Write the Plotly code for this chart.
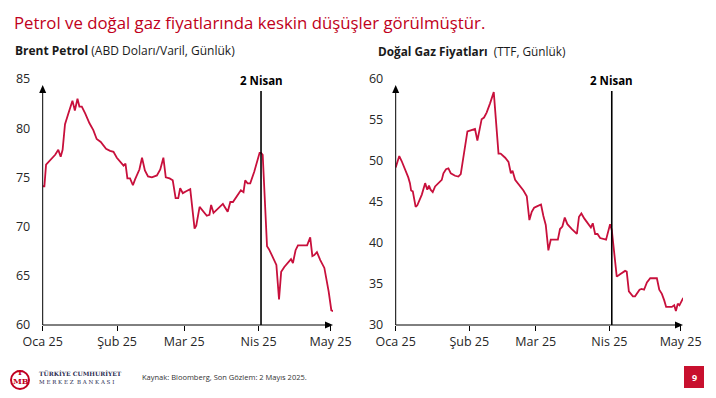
import pandas as pd
import plotly.graph_objects as go

# ---------------- data ----------------
start_date = "2025-01-01"
month_ticks = ["2025-01-01", "2025-02-01", "2025-03-01", "2025-04-01", "2025-05-01"]
month_labels = ["Oca 25", "Şub 25", "Mar 25", "Nis 25", "May 25"]
event_date = "2025-04-02"
event_label = "2 Nisan"

# Brent: day offset from 1 Jan 2025, USD/barrel
brent_days = [0, 0.7, 1.4, 3.1, 5.2, 6.5, 7.5, 8.3, 9.3, 10.7, 12.4, 13.4, 14.5, 15.3, 16.3,
              17.7, 19.5, 21.1, 22.5, 24.2, 26.4, 28.1, 29.5, 30.9, 32.5, 33.7, 34.5, 35.3, 36.4,
              37.6, 38.5, 40.3, 41.4, 42.6, 43.9, 45.5, 47.6, 49.0, 50.3, 51.3, 52.9, 54.2, 55.4,
              56.5, 57.3, 58.4, 59.8, 61.5, 63.3, 64.0, 65.4, 67.0, 68.4, 69.5, 70.2, 71.2, 72.6,
              75.1, 77.1, 78.2, 79.3, 81.2, 82.6, 83.7, 84.4, 85.4, 86.5, 88.2, 89.3, 90.4, 91.0,
              91.7, 93.5, 94.3, 95.5, 97.4, 98.5, 99.4, 100.7, 101.8, 103.5, 104.3, 105.4, 106.4,
              108.1, 110.2, 111.5, 112.4, 113.2, 114.3, 115.7, 117.4, 119.2, 120.3, 121.3]
brent_vals = [74.1, 74.1, 76.3, 76.7, 77.3, 77.8, 77.1, 77.8, 80.4, 81.5, 82.8, 81.8, 83.0, 82.2,
              82.2, 81.5, 80.5, 79.8, 78.9, 78.6, 77.9, 77.7, 77.6, 77.0, 76.5, 76.2, 76.4, 74.9,
              74.9, 74.2, 74.8, 75.8, 77.0, 75.7, 75.1, 75.0, 75.2, 75.8, 77.0, 75.0, 74.9, 74.7,
              72.9, 72.9, 73.9, 73.4, 73.6, 73.8, 69.8, 70.1, 72.0, 71.5, 71.1, 71.2, 72.2, 71.4,
              71.7, 72.3, 71.5, 72.5, 72.5, 73.2, 73.7, 73.5, 74.7, 74.4, 74.4, 75.6, 76.6, 77.5,
              77.5, 77.3, 68.0, 67.7, 67.1, 66.1, 62.6, 65.4, 65.9, 66.2, 66.7, 66.3, 67.6, 68.1,
              68.1, 68.1, 68.9, 67.0, 67.1, 67.4, 66.6, 65.8, 63.4, 61.5, 61.4]

# TTF natural gas: day offset from 1 Jan 2025, EUR/MWh
gas_days = [0, 0.8, 1.5, 2.5, 3.9, 5.3, 6.0, 6.5, 7.2, 8.4, 9.1, 11.0, 12.4, 13.3, 14.0, 14.7,
            15.6, 16.6, 19.4, 20.1, 21.2, 22.2, 23.2, 25.0, 26.4, 27.4, 30.2, 31.0, 33.4, 34.4,
            36.2, 37.2, 38.3, 39.7, 41.3, 43.3, 44.2, 46.1, 47.5, 48.5, 49.2, 50.3, 51.7, 53.8,
            55.2, 56.3, 57.3, 58.3, 59.7, 61.2, 62.2, 63.2, 64.3, 65.3, 66.4, 68.3, 69.2, 70.2,
            71.2, 72.3, 74.2, 76.3, 77.2, 78.2, 79.4, 80.9, 82.2, 83.0, 84.0, 85.0, 86.1, 88.6,
            89.2, 90.3, 91.0, 93.1, 94.5, 96.6, 97.3, 98.2, 99.9, 100.8, 102.7, 103.6, 104.6,
            105.8, 107.2, 110.0, 111.0, 112.1, 113.1, 113.9, 116.3, 117.3, 118.0, 118.8, 119.5,
            120.5, 121.1]
gas_vals = [49.2, 50.1, 50.6, 50.0, 49.1, 48.0, 47.3, 46.4, 46.3, 44.4, 44.6, 45.9, 47.3, 46.5,
            47.0, 46.5, 46.2, 46.9, 47.7, 48.5, 49.0, 49.1, 48.5, 48.2, 48.1, 48.4, 53.6, 53.7,
            53.9, 52.5, 55.1, 55.3, 55.9, 57.0, 58.4, 50.9, 50.9, 50.4, 49.9, 48.5, 48.8, 47.7,
            47.2, 46.4, 45.7, 42.8, 43.8, 44.3, 44.5, 44.7, 43.3, 42.2, 39.1, 40.4, 40.4, 40.4,
            41.7, 42.0, 43.1, 42.3, 41.7, 41.1, 43.2, 43.6, 43.0, 42.4, 41.9, 42.4, 41.1, 41.1,
            40.6, 40.4, 41.0, 42.3, 41.6, 35.9, 36.2, 36.6, 36.5, 34.1, 33.5, 33.5, 34.3, 34.4,
            34.3, 35.2, 35.7, 35.7, 34.3, 33.8, 33.0, 32.2, 32.2, 32.4, 31.7, 32.6, 32.4, 33.0,
            33.3]

brent_range = [60, 85]
brent_ticks = [60, 65, 70, 75, 80, 85]
gas_range = [30, 60]
gas_ticks = [30, 35, 40, 45, 50, 55, 60]
x_end = "2025-05-02"

title_text = "Petrol ve doğal gaz fiyatlarında keskin düşüşler görülmüştür."
left_sub = "<b>Brent Petrol</b> (ABD Doları/Varil, Günlük)"
right_sub = "<b>Doğal Gaz Fiyatları</b>  (TTF, Günlük)"
source_text = "Kaynak: Bloomberg, Son Gözlem: 2 Mayıs 2025."
page_no = "9"

# ---------------- helpers ----------------
W, H = 716, 398
def px(x):
    return x / W
def py(y):
    return 1 - y / H

base = pd.Timestamp(start_date)
brent_x = base + pd.to_timedelta(brent_days, unit="D")
gas_x = base + pd.to_timedelta(gas_days, unit="D")

LINE = "#c8103c"
FONT = "Open Sans, DejaVu Sans, sans-serif"
TXT = "#262626"

fig = go.Figure()
fig.add_trace(go.Scatter(x=brent_x, y=brent_vals, mode="lines",
                         line=dict(color=LINE, width=1.8), xaxis="x", yaxis="y",
                         showlegend=False, hoverinfo="skip"))
fig.add_trace(go.Scatter(x=gas_x, y=gas_vals, mode="lines",
                         line=dict(color=LINE, width=1.8), xaxis="x2", yaxis="y2",
                         showlegend=False, hoverinfo="skip"))

Y_BOT, Y_TOP = 325, 79          # pixel rows of the y-range ends
LX0, LX1 = 42.7, 333            # left panel x extent (px)
RX0, RX1 = 395.7, 683           # right panel x extent (px)
ydom = [py(Y_BOT), py(Y_TOP)]

def xaxis_cfg(dom, anchor):
    return dict(domain=dom, range=[start_date, x_end], type="date", anchor=anchor,
                tickvals=month_ticks, ticktext=month_labels, automargin=False,
                showgrid=False, zeroline=False, showline=False,
                ticks="outside", ticklen=5, tickwidth=1, tickcolor="black",
                tickfont=dict(family=FONT, size=12.5, color=TXT), fixedrange=True)

def yaxis_cfg(rng, ticks, anchor):
    return dict(domain=ydom, range=rng, tickvals=ticks, anchor=anchor, automargin=False,
                showgrid=False, zeroline=False, showline=False,
                ticks="outside", ticklen=9, tickcolor="rgba(0,0,0,0)",
                tickfont=dict(family=FONT, size=12.5, color=TXT), fixedrange=True)

fig.update_layout(
    width=W, height=H, autosize=False, margin=dict(l=0, r=0, t=0, b=0, pad=0, autoexpand=False),
    paper_bgcolor="white", plot_bgcolor="rgba(0,0,0,0)",
    xaxis=xaxis_cfg([px(LX0), px(LX1)], "y"),
    yaxis=yaxis_cfg(brent_range, brent_ticks, "x"),
    xaxis2=xaxis_cfg([px(RX0), px(RX1)], "y2"),
    yaxis2=yaxis_cfg(gas_range, gas_ticks, "x2"),
    showlegend=False,
)

annotations = []
shapes = []

def paper_path(points):
    return "M " + " L ".join(f"{px(x):.5f},{py(y):.5f}" for x, y in points) + " Z"

# axis lines with arrow heads (paper coordinates so they are not clipped)
for x0, x1 in [(LX0, LX1), (RX0, RX1)]:
    tip_y = 85
    shapes.append(dict(type="line", xref="paper", yref="paper", x0=px(x0), x1=px(x0),
                       y0=py(Y_BOT), y1=py(tip_y + 4), line=dict(color="black", width=1)))
    shapes.append(dict(type="line", xref="paper", yref="paper", x0=px(x0), x1=px(x1 - 4),
                       y0=py(Y_BOT), y1=py(Y_BOT), line=dict(color="black", width=1)))
    shapes.append(dict(type="path", xref="paper", yref="paper",
                       path=paper_path([(x0, tip_y), (x0 - 3.5, tip_y + 8), (x0 + 3.5, tip_y + 8)]),
                       fillcolor="black", line=dict(width=0)))
    shapes.append(dict(type="path", xref="paper", yref="paper",
                       path=paper_path([(x1, Y_BOT), (x1 - 8, Y_BOT - 3.5), (x1 - 8, Y_BOT + 3.5)]),
                       fillcolor="black", line=dict(width=0)))

# event lines
for xr, yr, rng in [("x", "y", brent_range), ("x2", "y2", gas_range)]:
    ytop = rng[0] + (rng[1] - rng[0]) * (Y_BOT - 91) / (Y_BOT - Y_TOP)
    shapes.append(dict(type="line", xref=xr, yref=yr, x0=event_date, x1=event_date,
                       y0=rng[0], y1=ytop, line=dict(color="black", width=1.6)))
    annotations.append(dict(x=event_date, y=ytop, xref=xr, yref=yr, text="<b>" + event_label + "</b>",
                            showarrow=False, yanchor="bottom", yshift=1,
                            font=dict(family=FONT, size=11.5, color="black")))

# titles
annotations.append(dict(x=px(12), y=py(23), xref="paper", yref="paper", xanchor="left",
                        yanchor="middle", text=title_text, showarrow=False,
                        font=dict(family=FONT, size=16.8, color="#c00020")))
annotations.append(dict(x=px(13), y=py(51), xref="paper", yref="paper", xanchor="left",
                        yanchor="middle", text=left_sub, showarrow=False,
                        font=dict(family=FONT, size=12, color="#1a1a1a")))
annotations.append(dict(x=px(376), y=py(51), xref="paper", yref="paper", xanchor="left",
                        yanchor="middle", text=right_sub, showarrow=False,
                        font=dict(family=FONT, size=11.8, color="#1a1a1a")))

# footer
annotations.append(dict(x=px(140), y=py(377), xref="paper", yref="paper", xanchor="left",
                        yanchor="middle", text=source_text, showarrow=False,
                        font=dict(family=FONT, size=7.5, color="#333333")))
annotations.append(dict(x=px(37), y=py(373), xref="paper", yref="paper", xanchor="left",
                        yanchor="middle", text="<b>TÜRKİYE CUMHURİYET</b>", showarrow=False,
                        font=dict(family="DejaVu Serif, serif", size=6, color="#2b2b4f")))
annotations.append(dict(x=px(37), y=py(382), xref="paper", yref="paper", xanchor="left",
                        yanchor="middle", text="M E R K E Z  B A N K A S I", showarrow=False,
                        font=dict(family="DejaVu Serif, serif", size=5.5, color="#2b2b4f")))
# logo approximation
shapes.append(dict(type="circle", xref="paper", yref="paper",
                   x0=px(11), x1=px(29), y0=py(389), y1=py(371),
                   line=dict(color="#c00020", width=2)))
annotations.append(dict(x=px(21), y=py(381), xref="paper", yref="paper",
                        xanchor="center", yanchor="middle",
                        text="<b>MB</b>", showarrow=False,
                        font=dict(family="DejaVu Serif, serif", size=8, color="#c00020")))
annotations.append(dict(x=px(20), y=py(372), xref="paper", yref="paper",
                        xanchor="center", yanchor="middle",
                        text="<b>T</b>", showarrow=False,
                        font=dict(family="DejaVu Serif, serif", size=8, color="#c00020")))
# page number box
shapes.append(dict(type="rect", xref="paper", yref="paper",
                   x0=px(684), x1=px(704), y0=py(388), y1=py(366),
                   fillcolor="#c8102e", line=dict(width=0)))
annotations.append(dict(x=px(694), y=py(377), xref="paper", yref="paper",
                        xanchor="center", yanchor="middle",
                        text="<b>" + page_no + "</b>", showarrow=False,
                        font=dict(family=FONT, size=9, color="white")))

fig.update_layout(annotations=annotations, shapes=shapes)
fig.write_html("out.html", config={"displayModeBar": False},
               post_script="document.body.style.margin='0';document.body.style.overflow='hidden';")
